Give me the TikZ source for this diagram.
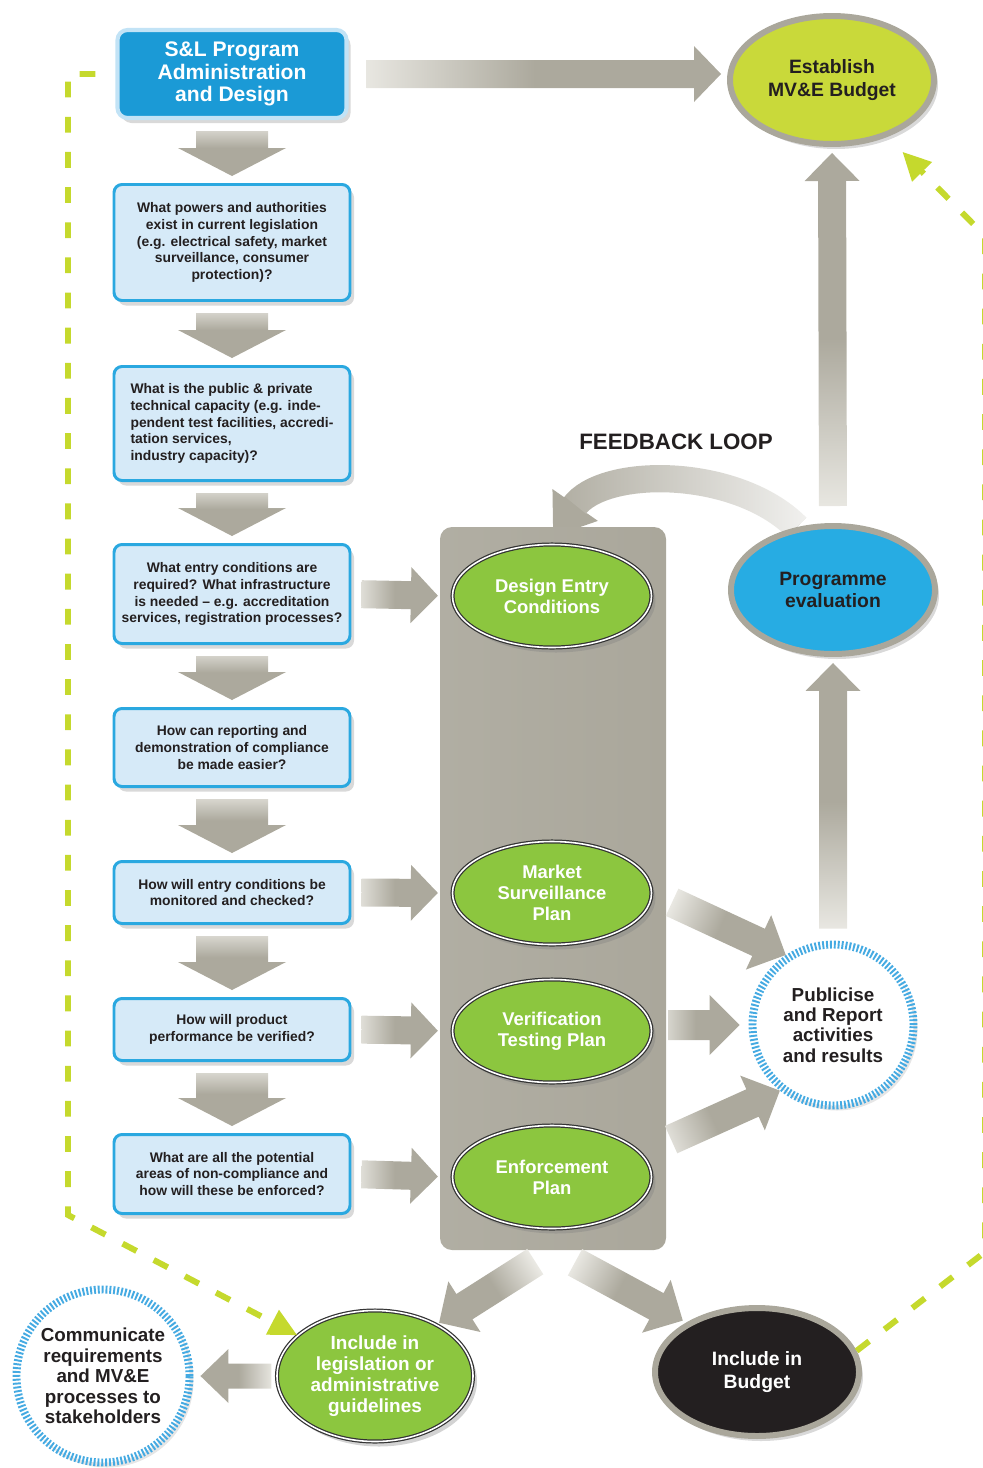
\documentclass[tikz,border=0pt]{standalone}
\usepackage{fontspec}
\setmainfont{Liberation Sans}
\usetikzlibrary{arrows.meta,calc,positioning,shapes.geometric,shadows,fadings,backgrounds}

\definecolor{titleblue}{HTML}{1B9AD6}
\definecolor{titleglow}{HTML}{C2E3F6}
\definecolor{qfill}{HTML}{D6EAF8}
\definecolor{qline}{HTML}{2AA8E0}
\definecolor{arrowgray}{HTML}{ACA99D}
\definecolor{arrowlight}{HTML}{EEEDE8}
\definecolor{ringgray}{HTML}{AAA79B}
\definecolor{leafgreen}{HTML}{8CC63F}
\definecolor{limegreen}{HTML}{C9D93A}
\definecolor{evalblue}{HTML}{27ACE3}
\definecolor{ringblue}{HTML}{45AAE2}
\definecolor{dashgreen}{HTML}{C5D92D}
\definecolor{inkblack}{HTML}{231F20}

\tikzfading[name=fade tail, left color=transparent!100, right color=transparent!15]

\tikzset{
  ba shaft/.store in=\bashaft, ba head/.store in=\bahead, ba len/.store in=\balen,
  ba tailgap/.store in=\batail, ba tipgap/.store in=\batip,
  block arrow/.style={draw=none, top color=arrowgray, bottom color=arrowlight,
    middle color=arrowgray, ba shaft=.28cm, ba head=.56cm, ba len=.56cm,
    ba tailgap=.2cm, ba tipgap=.14cm,
    to path={
      ($(\tikztostart)!\batail!(\tikztotarget)$) coordinate (ba-s)
      ($(\tikztotarget)!\batip!(\tikztostart)$) coordinate (ba-t)
      ($(ba-t)!\balen!(ba-s)$) coordinate (ba-b)
      ($(ba-s)!\bashaft!90:(ba-t)$) -- ($(ba-b)!\bashaft!90:(ba-t)$)
      -- ($(ba-b)!\bahead!90:(ba-t)$) -- (ba-t)
      -- ($(ba-b)!\bahead!-90:(ba-t)$) -- ($(ba-b)!\bashaft!-90:(ba-t)$)
      -- ($(ba-s)!\bashaft!-90:(ba-t)$) -- cycle}},
  down arrow/.style={block arrow, ba shaft=.72cm, ba head=1.08cm, ba tailgap=.22cm, shading angle=180},
  right arrow/.style={block arrow, ba len=.54cm, ba tipgap=.28cm, shading angle=-90},
  up arrow/.style={block arrow, ba head=.55cm, shading angle=0},
  side arrow/.style={block arrow, ba shaft=.3cm, ba head=.6cm, ba len=.6cm},
}

\begin{document}
\begin{tikzpicture}[x=.2mm, y=-.2mm,
  title box/.style={rectangle, rounded corners=.2cm, fill=titleblue, draw=titleglow,
    line width=2.3pt, minimum width=4.58cm, minimum height=1.76cm, text=white,
    align=center, font=\fontsize{12}{13}\selectfont\bfseries,
    drop shadow={shadow xshift=.08cm, shadow yshift=-.1cm, opacity=.3}},
  question/.style={rectangle, rounded corners=.16cm, fill=qfill, draw=qline,
    line width=1.7pt, minimum width=4.72cm, text=inkblack, align=center,
    font=\fontsize{7.9}{9.6}\selectfont\bfseries,
    drop shadow={shadow xshift=.08cm, shadow yshift=-.1cm, opacity=.3}},
  panel/.style={rectangle, rounded corners=.24cm, left color=ringgray!92!white,
    right color=ringgray, minimum width=4.52cm, minimum height=14.46cm},
  green node/.style={ellipse, fill=leafgreen, draw=black!80, line width=.7pt,
    double=white, double distance=.9pt, minimum width=3.98cm, minimum height=2.06cm,
    inner sep=0pt, text=white, align=center, font=\fontsize{10.5}{11.9}\selectfont\bfseries,
    drop shadow={shadow xshift=.08cm, shadow yshift=-.1cm, opacity=.35}},
  gray ring/.style={ellipse, draw=ringgray, line width=3.4pt, minimum width=4.08cm,
    minimum height=2.56cm, inner sep=0pt, text=inkblack, align=center,
    font=\fontsize{11}{12.8}\selectfont\bfseries,
    drop shadow={shadow xshift=.08cm, shadow yshift=-.1cm, opacity=.3}},
  tick ring/.style={circle, fill=white, draw=ringblue, line width=4.5pt,
    dash pattern=on 1.1pt off 1.1pt, inner sep=0pt, text=inkblack, align=center,
    font=\fontsize{10.7}{11.6}\selectfont\bfseries,
    drop shadow={shadow xshift=.08cm, shadow yshift=-.1cm, opacity=.2}},
  loop arrow/.style={draw=arrowgray, line width=15.5pt,
    -{Triangle[length=22pt,width=30pt]}},
  loop fade/.style={draw=white, line width=16.5pt, shorten >=22pt, path fading=fade tail},
  green dash/.style={draw=dashgreen, line width=3.4pt, dash pattern=on 9pt off 11pt,
    -{Triangle[length=16pt,width=15pt]}},
  loop label/.style={text=inkblack, font=\fontsize{12.7}{14}\selectfont\bfseries}]

\useasboundingbox (0,0) rectangle (983,1468);

\node[title box] (title) at (232,74) {S\&L Program\\Administration\\and Design};
\node[question, minimum height=2.32cm] (q1) at (232,242.5) {What powers and authorities\\exist in current legislation\\(e.g. electrical safety, market\\surveillance, consumer\\protection)?};
\node[question, minimum height=2.28cm, align=left] (q2) at (232,423.5) {What is the public \& private\\technical capacity (e.g. inde-\\pendent test facilities, accredi-\\tation services,\\industry capacity)?};
\node[question, minimum height=1.98cm] (q3) at (232,594) {What entry conditions are\\required? What infrastructure\\is needed -- e.g. accreditation\\services, registration processes?};
\node[question, minimum height=1.56cm] (q4) at (232,747.5) {How can reporting and\\demonstration of compliance\\be made easier?};
\node[question, minimum height=1.24cm] (q5) at (232,892.5) {How will entry conditions be\\monitored and checked?};
\node[question, minimum height=1.24cm] (q6) at (232,1029.5) {How will product\\performance be verified?};
\node[question, minimum height=1.58cm] (q7) at (232,1174) {What are all the potential\\areas of non-compliance and\\how will these be enforced?};

\node[panel] (panel) at (553,888.5) {};
\node[green node] (dec) at (552,596) {Design Entry\\Conditions};
\node[green node] (ms) at (552,893) {Market\\Surveillance\\Plan};
\node[green node] (vt) at (552,1031) {Verification\\Testing Plan};
\node[green node] (enf) at (552,1177) {Enforcement\\Plan};

\node[gray ring, fill=limegreen] (est) at (832,80) {Establish\\MV\&E Budget};
\node[gray ring, fill=evalblue] (eval) at (833,590) {Programme\\evaluation};
\node[tick ring, minimum size=3.22cm] (pub) at (833,1025) {Publicise\\and Report\\activities\\and results};
\node[tick ring, minimum size=3.46cm] (comm) at (103,1376) {Communicate\\requirements\\and MV\&E\\processes to\\stakeholders};
\node[green node, minimum width=3.92cm, minimum height=2.62cm, font=\fontsize{10.8}{11.9}\selectfont\bfseries] (incleg) at (375,1376) {Include in\\legislation or\\administrative\\guidelines};
\node[gray ring, fill=inkblack, text=white] (budget) at (757,1372) {Include in\\Budget};
\node[loop label] (fbl) at (676,442) {FEEDBACK LOOP};

\foreach \a/\b in {title/q1,q1/q2,q2/q3,q3/q4,q4/q5,q5/q6,q6/q7}
  \path[down arrow] (\a.south) to (\b.north);
\foreach \a/\b in {q3/dec,q5/ms,q6/vt,q7/enf}
  \path[right arrow] (\a.east) to (\b.west);

\path[right arrow, ba tailgap=.36cm, ba tipgap=.12cm] (title.east) to (title.east -| est.west);
\path[up arrow, ba tailgap=.34cm, ba tipgap=.12cm] (eval.north) to (est.south);
\path[up arrow, ba tailgap=.24cm, ba tipgap=.12cm] (pub.north) to (eval.south);
\path[side arrow, shading angle=-114.7, ba tailgap=.44cm, ba tipgap=0cm] (ms.east) to (pub.124);
\path[side arrow, shading angle=-90, ba tailgap=.32cm, ba tipgap=.18cm] (pub.west -| vt.east) to (pub.west);
\path[side arrow, shading angle=-65.6, ba tailgap=.66cm, ba tipgap=0cm] (enf.15) to (pub.231);
\path[side arrow, shading angle=122.5, ba tailgap=.42cm, ba tipgap=.06cm] (panel.south) to (incleg.40);
\path[side arrow, shading angle=-118.3, ba tailgap=.5cm, ba tipgap=.08cm] (panel.south) to (budget.145);
\path[side arrow, ba shaft=.25cm, ba head=.54cm, ba len=.56cm, shading angle=90, ba tailgap=.1cm, ba tipgap=.14cm] (incleg.west) to (comm.east);

\begin{scope}[on background layer]
\draw[loop arrow] (eval.120) to[out=135, in=55, looseness=.9] ([yshift=-.2cm]panel.north);
\draw[loop fade] (eval.120) to[out=135, in=55, looseness=.9] ([yshift=-.2cm]panel.north);
\end{scope}

\coordinate (lbend) at (68,1215);
\coordinate (rlow) at (985,1252);
\coordinate (rhigh) at (985,236);
\draw[green dash] ([xshift=-.4cm]title.west) -| (lbend) -- (incleg);
\draw[green dash, shorten >=.42cm] (budget.12) -- (rlow) -- (rhigh) -- (est);

\end{tikzpicture}
\end{document}
